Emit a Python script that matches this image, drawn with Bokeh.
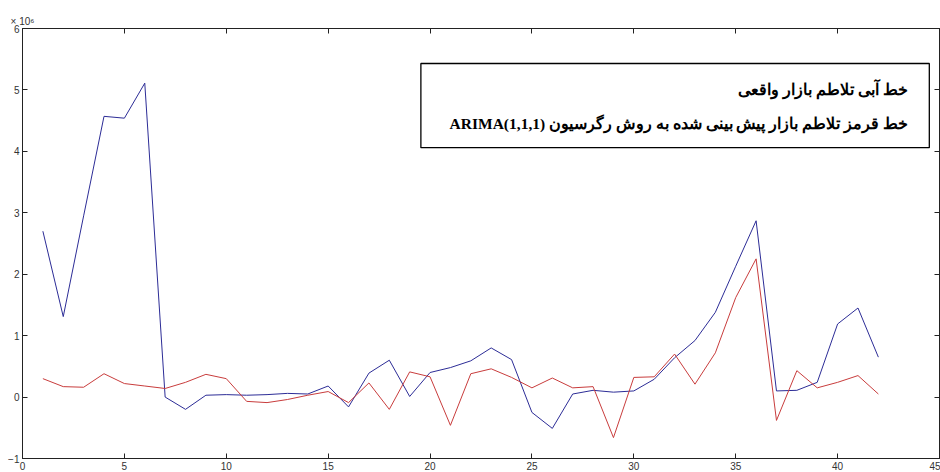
from bokeh.plotting import figure
from bokeh.models import (LinearAxis, FixedTicker, Label, ColumnDataSource, Range1d,
                          BoxAnnotation, CustomJSTickFormatter)
from bokeh.embed import file_html
from bokeh.resources import INLINE

# Market volatility (units of 10^6), observation index 1..42
t = list(range(1, 43))
actual = [2.70, 1.31, 2.95, 4.57, 4.54, 5.11, 0.00, -0.20, 0.03, 0.04,
          0.03, 0.04, 0.06, 0.05, 0.18, -0.16, 0.39, 0.60, 0.01, 0.40,
          0.48, 0.59, 0.80, 0.61, -0.25, -0.51, 0.05, 0.11, 0.08, 0.10,
          0.29, 0.64, 0.92, 1.38, 2.13, 2.87, 0.10, 0.11, 0.24, 1.19,
          1.45, 0.65]
arima = [0.30, 0.17, 0.16, 0.38, 0.22, 0.18, 0.14, 0.24, 0.37, 0.30,
         -0.07, -0.09, -0.04, 0.03, 0.09, -0.09, 0.23, -0.20, 0.41, 0.33,
         -0.46, 0.38, 0.46, 0.32, 0.15, 0.31, 0.15, 0.17, -0.66, 0.32,
         0.33, 0.70, 0.21, 0.72, 1.62, 2.25, -0.38, 0.43, 0.15, 0.24,
         0.35, 0.05]

x_ticks = [0, 5, 10, 15, 20, 25, 30, 35, 40, 45]
y_ticks = [-1, 0, 1, 2, 3, 4, 5, 6]
scale_label = "× 10⁶"
legend_lines = [
    "خط آبی تلاطم بازار واقعی",
    "ARIMA(1,1,1) خط قرمز تلاطم بازار پیش بینی شده به روش رگرسیون",
]

src = ColumnDataSource(dict(t=t, actual=actual, arima=arima))

p = figure(width=940, height=472, output_backend="svg", toolbar_location=None,
           x_range=Range1d(0, 45), y_range=Range1d(-1, 6),
           min_border_left=22, min_border_right=1, min_border_top=28,
           min_border_bottom=10, x_axis_location=None, y_axis_location=None,
           background_fill_color="white", border_fill_color="white")
p.grid.visible = False
p.outline_line_color = "#222222"
p.outline_line_width = 1

blank = CustomJSTickFormatter(code="return ''")


def make_axis(ticks, labels=True):
    ax = LinearAxis(ticker=FixedTicker(ticks=ticks))
    ax.axis_line_color = "#222222"
    ax.major_tick_line_color = "#222222"
    ax.major_tick_in = 5
    ax.major_tick_out = 0
    ax.minor_tick_line_color = None
    ax.major_label_text_font = "Liberation Sans"
    ax.major_label_text_color = "#333333"
    ax.major_label_text_font_size = "10px"
    if labels:
        ax.major_label_standoff = 3
    else:
        ax.formatter = blank
        ax.major_label_standoff = 0
    return ax


p.add_layout(make_axis(x_ticks), "below")
p.add_layout(make_axis(y_ticks), "left")

top = make_axis(x_ticks, labels=False)
top.axis_label = scale_label
top.axis_label_align = "start"
top.axis_label_standoff = 2
top.axis_label_text_font = "Liberation Sans"
top.axis_label_text_font_style = "normal"
top.axis_label_text_font_size = "10px"
top.axis_label_text_color = "#333333"
p.add_layout(top, "above")
p.add_layout(make_axis(y_ticks, labels=False), "right")

p.line("t", "actual", source=src, line_color="#2c2c96", line_width=1)
p.line("t", "arima", source=src, line_color="#c83c3c", line_width=1)

# boxed note in the upper right
p.add_layout(BoxAnnotation(left=19.55, right=44.5, top=5.43, bottom=4.06,
                           fill_color="white", fill_alpha=1.0,
                           line_color="black", line_alpha=1.0, line_width=1.3))
for txt, yy in zip(legend_lines, [5.0, 4.45]):
    p.add_layout(Label(x=43.45, y=yy, text=txt,
                       text_align="right", text_baseline="middle",
                       text_font="Liberation Serif", text_font_style="bold",
                       text_font_size="15.5px", text_color="black"))

open("out.html", "w").write(file_html(p, INLINE))
